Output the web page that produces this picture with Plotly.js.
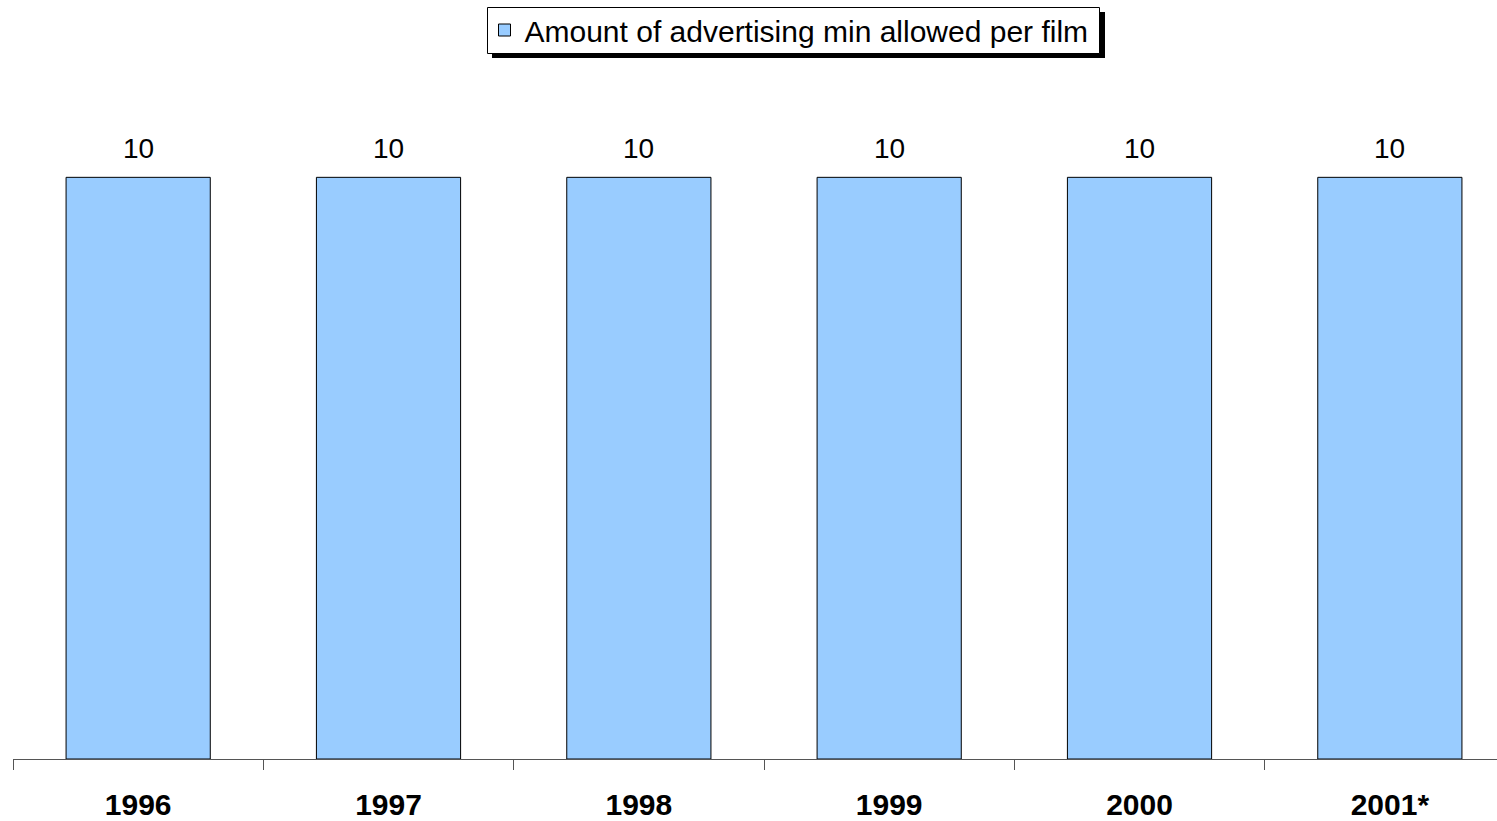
<!DOCTYPE html>
<html><head><meta charset="utf-8">
<script src="https://cdn.plot.ly/plotly-3.0.1.min.js"></script>
<style>html,body{margin:0;padding:0;background:#fff;}#chart{width:1497px;height:821px;}</style>
</head><body><div id="chart"></div>
<script>
const years = ["1996", "1997", "1998", "1999", "2000", "2001*"];
const minutes = [10, 10, 10, 10, 10, 10];
const seriesName = "Amount of advertising min allowed per film";

const FONT = "Liberation Sans, Arial, sans-serif";

const trace = {
  type: "bar",
  x: years,
  y: minutes,
  name: seriesName,
  width: 0.576,
  marker: {color: "#99CCFF", line: {color: "#000000", width: 1}},
  hoverinfo: "x+y",
  showlegend: true
};

// value labels above each bar (x given as category index)
const labelAnnotations = minutes.map((v, i) => ({
  x: i, y: v, xref: "x", yref: "y",
  text: String(v), showarrow: false,
  yanchor: "middle", yshift: 29,
  font: {family: FONT, size: 28, color: "#000"}
}));

const px = v => (v - 13) / 1484;      // pixel -> paper x
const py = v => (759 - v) / 698;      // pixel -> paper y

const layout = {
  width: 1497, height: 821,
  margin: {l: 13, r: 0, t: 61, b: 62},
  paper_bgcolor: "#fff", plot_bgcolor: "#fff",
  font: {family: FONT, color: "#000"},
  showlegend: true,
  legend: {
    x: px(789), xanchor: "center", y: py(4), yanchor: "top",
    bgcolor: "rgba(0,0,0,0)", borderwidth: 0,
    font: {size: 30, color: "#000", family: FONT},
    orientation: "h"
  },
  xaxis: {
    type: "category",
    range: [-0.5, 5.428],
    showline: true, linecolor: "#555", linewidth: 1,
    ticks: "outside", tickson: "boundaries", ticklen: 10, tickcolor: "#555", tickwidth: 1,
    ticklabelstandoff: 19,
    tickfont: {size: 30, color: "#000", family: FONT, weight: "bold"},
    showgrid: false, zeroline: false, fixedrange: true
  },
  yaxis: {
    range: [0, 12],
    visible: false, showgrid: false, zeroline: false, fixedrange: true
  },
  annotations: labelAnnotations,
  shapes: [
    {
      type: "rect", xref: "paper", yref: "paper", layer: "above",
      x0: px(492), x1: px(1105), y0: py(58), y1: py(12),
      fillcolor: "#000", line: {width: 0}
    },
    {
      type: "rect", xref: "paper", yref: "paper", layer: "above",
      x0: px(487.5), x1: px(1099.5), y0: py(53.5), y1: py(7.5),
      fillcolor: "#fff", line: {color: "#000", width: 1}
    }
  ]
};

Plotly.newPlot("chart", [trace], layout, {displayModeBar: false, staticPlot: true});
</script></body></html>
